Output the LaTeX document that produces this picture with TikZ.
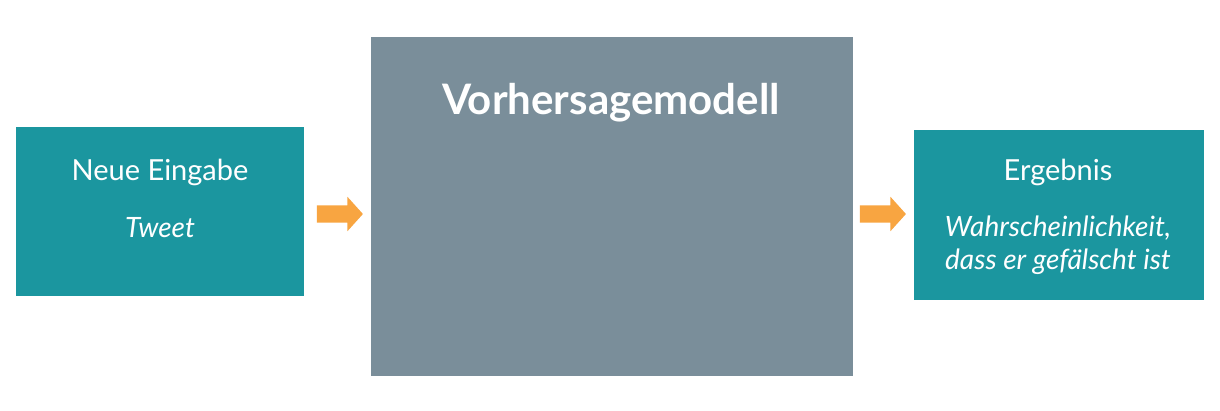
\documentclass[tikz,border=0pt]{standalone}
\usepackage{fontspec}
\setmainfont{Lato}
\usetikzlibrary{shapes.arrows}
\definecolor{tealbox}{HTML}{1B969F}
\definecolor{modelgray}{HTML}{7A8E9A}
\definecolor{arroworange}{HTML}{F8A541}

\begin{document}
\begin{tikzpicture}[x=1pt,y=-1pt]
\tikzstyle{box}=[inner sep=0pt, text=white, align=center]
\tikzstyle{flow}=[single arrow, fill=arroworange, draw=none, minimum height=46pt,
  single arrow head extend=8.5pt, single arrow tip angle=96, inner xsep=0pt, inner ysep=8.5pt,
  text height=0pt, text depth=0pt, minimum width=0pt]
\useasboundingbox [fill=white] (0,0) rectangle (1220,411);
% boxes
\node [box, fill=tealbox, minimum width=288pt, minimum height=169pt] (input) at (160,211.5) {};
\node [box, fill=modelgray, minimum width=482pt, minimum height=339pt] (model) at (612,206.5) {};
\node [box, fill=tealbox, minimum width=290pt, minimum height=170pt] (result) at (1059,215) {};
% texts
\node [box, font=\fontsize{29}{34}\selectfont] (inputtitle) at (160,172) {Neue Eingabe};
\node [box, font=\fontsize{28}{33}\selectfont\itshape] (inputtext) at (160,228) {Tweet};
\node [box, font=\fontsize{42}{48}\selectfont\bfseries] (modeltitle) at (611,103) {Vorhersagemodell};
\node [box, font=\fontsize{29}{34}\selectfont] (resulttitle) at (1058,172) {Ergebnis};
\node [box, font=\fontsize{28}{33}\selectfont\itshape] (resulttext) at (1058,245)
  {Wahrscheinlichkeit,\\dass er gefälscht ist};
% arrows
\node [flow] (inarrow) at (336,214) {};
\node [flow] (outarrow) at (879,214) {};
\end{tikzpicture}
\end{document}
